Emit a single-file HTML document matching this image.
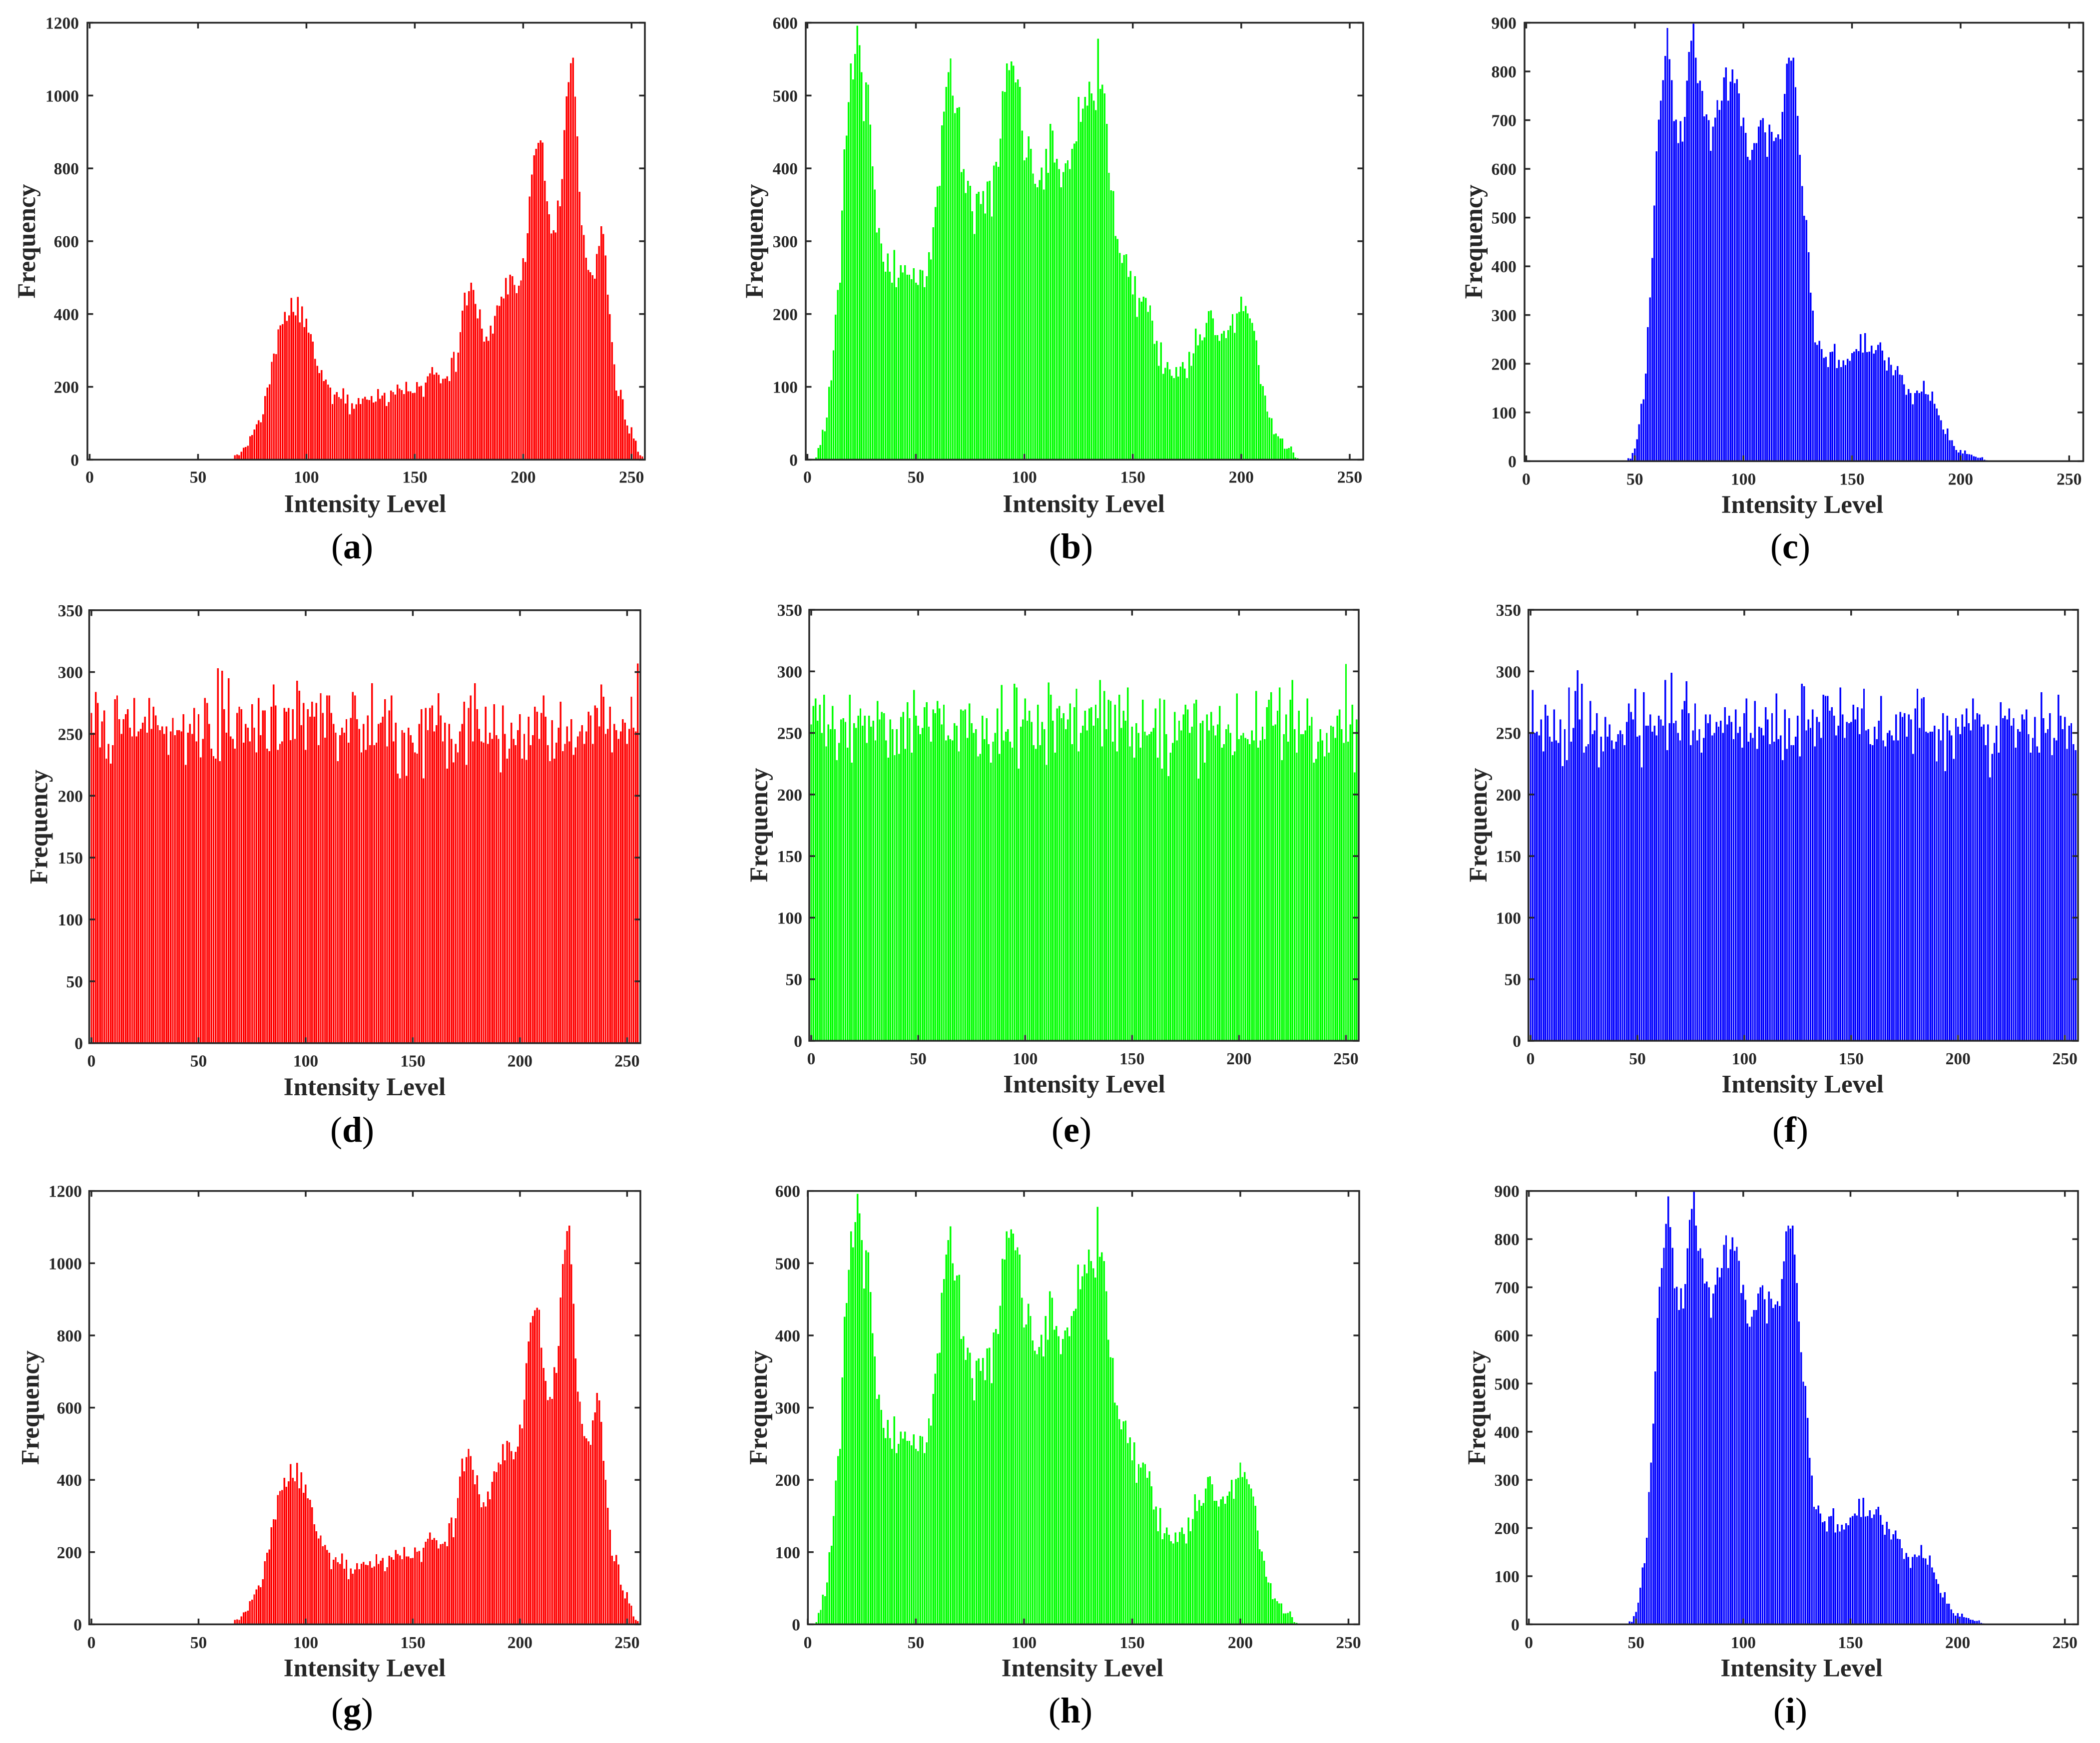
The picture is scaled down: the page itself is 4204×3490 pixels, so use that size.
<!DOCTYPE html>
<html lang="en">
<head>
<meta charset="utf-8">
<title>Intensity histograms</title>
<style>
html,body{margin:0;padding:0;background:#fff;}
#figure{display:block;width:4204px;height:3490px;background:#fff;}
text{font-family:"Liberation Serif",serif;}
</style>
</head>
<body>
<svg id="figure" xmlns="http://www.w3.org/2000/svg" width="4204" height="3490" viewBox="0 0 4204 3490"></svg>
<script>
const xTickValues = [0,50,100,150,200,250];
const yTicksOriginalRed = [0,200,400,600,800,1000,1200];
const yTicksOriginalGreen = [0,100,200,300,400,500,600];
const yTicksOriginalBlue = [0,100,200,300,400,500,600,700,800,900];
const yTicksEncrypted = [0,50,100,150,200,250,300,350];
const xAxisTitle = "Intensity Level";
const yAxisTitle = "Frequency";

const seriesOriginalRed = [
0,0,0,0,0,0,0,0,0,0,
0,0,0,0,0,0,0,0,0,0,
0,0,0,0,0,0,0,0,0,0,
0,0,0,0,0,0,0,0,0,0,
0,0,0,0,0,0,0,0,0,0,
0,0,0,0,0,0,0,0,0,0,
0,0,0,0,1,2,1,12,14,12,
22,33,35,38,64,68,83,97,108,103,
125,175,198,207,269,291,290,358,369,372,
406,381,396,444,406,396,447,377,421,364,
387,349,345,324,277,258,238,246,216,220,
206,198,153,179,186,172,167,196,154,179,
125,155,140,152,169,153,168,173,165,164,
175,157,160,194,167,176,184,147,158,190,
186,179,206,195,191,180,214,188,188,183,
184,213,201,203,173,212,229,237,254,234,
239,233,210,222,223,229,216,280,296,241,
294,350,409,459,424,463,486,466,428,388,
413,360,324,338,326,368,346,395,424,422,
448,443,499,454,508,504,480,457,478,492,
553,543,622,723,783,836,854,870,877,871,
766,710,674,621,630,624,712,696,771,905,
998,1037,1089,1104,997,888,736,644,617,555,
521,515,507,497,565,587,641,620,561,453,
400,323,262,190,175,192,166,110,94,72,
89,58,52,22,12,9];

const seriesOriginalGreen = [
0,0,0,1,3,16,20,41,39,58,
100,109,150,199,233,243,342,426,445,491,
544,522,557,596,569,532,465,518,515,460,
403,371,312,318,297,272,258,283,258,243,
288,237,250,267,257,267,254,254,248,263,
243,240,261,260,237,252,285,275,319,347,
375,376,459,478,512,532,551,500,476,483,
484,395,399,366,383,376,341,310,365,368,
351,369,338,382,383,334,404,409,402,441,
506,505,544,535,547,541,518,522,512,452,
411,415,444,427,393,379,374,384,401,371,
427,394,461,452,408,413,399,374,395,407,
411,399,427,434,437,498,464,482,498,486,
519,503,493,480,578,509,515,503,461,394,
370,369,307,303,284,270,281,282,251,259,
227,252,196,222,217,224,222,203,212,191,
159,163,129,161,118,126,134,124,115,112,
127,114,128,134,125,112,148,129,146,180,
157,172,164,168,188,204,205,194,171,171,
163,173,177,167,178,184,200,174,201,203,
224,204,211,201,194,188,177,164,130,104,
101,88,66,58,57,35,36,32,29,29,
15,15,16,18,10,3,2,1,1,1,
0,0,0,0,0,0,0,0,0,0,
0,0,0,0,0,0,0,0,0,0,
0,0,0,0,0,0];

const seriesOriginalBlue = [
0,0,0,0,0,0,0,0,0,0,
0,0,0,0,0,0,0,0,0,0,
0,0,0,0,0,0,0,0,0,0,
0,0,0,0,0,0,0,0,0,0,
0,0,0,0,0,0,0,6,5,17,
26,45,76,118,127,180,275,336,417,525,
636,701,740,782,832,889,825,782,698,701,
653,698,656,707,781,840,863,898,828,776,
781,760,708,712,700,637,687,705,741,721,
740,788,808,740,779,804,776,784,755,688,
705,674,625,618,639,653,653,687,700,704,
675,625,691,676,657,664,671,661,717,754,
816,828,822,828,768,709,629,565,504,495,
429,346,309,244,239,247,230,212,214,193,
224,225,241,191,208,193,207,197,210,206,
222,225,230,226,261,223,263,224,225,237,
221,228,239,244,227,207,186,213,198,176,
187,195,178,177,158,136,148,140,117,140,
145,140,143,165,138,137,124,143,118,108,
94,84,65,56,67,43,43,31,23,18,
23,16,22,15,14,13,10,9,7,7,
8,3,2,1,0,0,0,0,0,0,
0,0,0,0,0,0,0,0,0,0,
0,0,0,0,0,0,0,0,0,0,
0,0,0,0,0,0,0,0,0,0,
0,0,0,0,0,0];

const seriesEncryptedRed = [
267,251,284,275,239,260,269,230,242,226,
241,278,281,262,250,262,266,270,255,248,
279,248,252,254,259,264,251,279,254,272,
265,257,253,256,250,256,233,252,263,249,
253,253,252,266,225,251,258,250,271,244,
266,231,246,279,275,258,238,232,230,303,
228,301,270,251,295,248,246,238,267,272,
270,243,258,255,244,274,255,235,279,249,
269,269,238,236,272,290,273,237,242,244,
271,268,271,245,270,246,293,285,257,275,
237,270,264,276,264,275,241,283,267,247,
281,281,267,258,251,228,249,255,251,262,
243,263,284,281,262,254,235,258,237,265,
241,291,241,243,258,259,264,278,240,269,
281,244,259,218,214,253,251,216,255,249,
243,235,234,258,270,214,271,253,271,273,
252,257,283,265,244,259,222,258,246,227,
242,235,252,258,276,225,271,281,244,291,
270,254,244,243,272,242,251,246,274,249,
246,219,273,250,230,238,259,246,241,253,
266,230,250,229,264,241,249,272,268,246,
267,281,264,241,228,261,230,243,255,276,
236,242,256,244,262,233,239,248,252,257,
242,252,268,265,242,273,271,256,290,280,
250,254,272,235,258,253,246,252,262,259,
242,254,280,255,252,307];

const seriesEncryptedGreen = [
257,272,278,260,273,250,281,239,257,253,
272,253,228,242,261,262,259,238,281,226,
258,254,264,270,256,264,242,264,255,260,
244,276,261,267,266,244,230,261,253,232,
253,233,263,267,237,275,262,234,285,264,
256,249,254,271,275,255,243,269,266,276,
270,257,273,244,248,245,244,258,256,235,
269,268,269,246,274,258,250,253,231,233,
264,245,262,241,226,243,250,270,233,289,
244,251,253,243,238,290,287,221,255,261,
278,260,268,259,240,237,273,240,259,253,
224,291,281,260,234,270,272,262,266,253,
261,274,241,271,286,235,250,256,268,252,
270,271,256,273,262,293,239,284,253,277,
276,243,273,235,281,254,268,260,287,239,
255,230,258,250,238,277,251,248,249,251,
254,270,230,278,221,277,249,215,234,242,
267,244,260,252,265,273,269,250,255,274,
277,213,258,260,226,265,252,267,256,248,
257,272,238,241,253,257,250,232,235,282,
245,248,250,246,245,241,252,244,284,238,
244,255,245,271,277,283,256,257,268,287,
228,249,265,243,277,293,253,234,268,249,
249,252,278,256,263,226,229,243,253,244,
231,250,234,256,255,246,264,269,253,242,
306,243,257,273,218,261];

const seriesEncryptedBlue = [
250,285,250,251,248,261,235,273,264,247,
243,269,244,242,261,223,253,228,287,243,
254,284,301,261,290,234,239,241,276,249,
252,266,222,247,235,263,247,257,244,237,
243,249,252,249,240,259,274,267,261,286,
247,248,222,283,256,256,265,251,256,248,
264,261,256,293,236,258,299,258,260,250,
244,269,276,292,266,240,252,274,244,253,
234,246,265,258,265,248,250,259,255,260,
250,271,257,264,259,245,269,250,255,238,
266,278,243,250,246,276,237,255,254,248,
271,261,241,266,243,282,245,248,228,269,
237,262,240,240,247,264,231,290,288,252,
261,254,269,239,263,259,246,281,280,280,
268,271,264,248,256,287,265,246,259,258,
259,273,261,271,249,270,286,252,253,241,
240,255,245,260,280,244,239,250,252,248,
244,265,244,267,263,266,247,265,261,233,
270,286,254,278,279,251,250,251,251,256,
227,253,244,266,219,264,252,248,229,262,
255,249,265,255,270,258,252,278,261,266,
265,255,257,240,257,214,233,242,256,234,
275,262,264,261,270,256,262,238,253,251,
265,261,269,249,234,246,263,239,234,283,
262,250,253,266,232,246,244,281,264,253,
263,237,256,258,241,236];

const panels = [
  {id:'a',values:seriesOriginalRed,color:'#ff0000',yMax:1200,yTicks:yTicksOriginalRed,left:175,right:1291,top:45.5,bottom:920.4,x0:179.5,x250:1264.3,yTitleX:70,yTitleY:483,xTitleX:731,xTitleY:1025.5,capX:705,capY:1118,yLabelRight:158,xLabelY:966.7},
  {id:'b',values:seriesOriginalGreen,color:'#00ff00',yMax:600,yTicks:yTicksOriginalGreen,left:1613,right:2729,top:45.5,bottom:920.4,x0:1616.4,x250:2702,yTitleX:1527,yTitleY:483,xTitleX:2169.6,xTitleY:1025.5,capX:2144,capY:1118,yLabelRight:1597,xLabelY:966.7},
  {id:'c',values:seriesOriginalBlue,color:'#0000ff',yMax:900,yTicks:yTicksOriginalBlue,left:3052,right:4170.5,top:45.5,bottom:923.4,x0:3055.4,x250:4142.3,yTitleX:2967,yTitleY:484,xTitleX:3608,xTitleY:1027,capX:3584,capY:1118,yLabelRight:3035.7,xLabelY:970.3},
  {id:'d',values:seriesEncryptedRed,color:'#ff0000',yMax:350,yTicks:yTicksEncrypted,left:178.6,right:1282,top:1221.8,bottom:2088.7,x0:183,x250:1255.4,yTitleX:94.6,yTitleY:1655.6,xTitleX:730,xTitleY:2193,capX:705,capY:2286,yLabelRight:166,xLabelY:2135.6},
  {id:'e',values:seriesEncryptedGreen,color:'#00ff00',yMax:350,yTicks:yTicksEncrypted,left:1620,right:2720,top:1221,bottom:2084,x0:1624,x250:2694.5,yTitleX:1536,yTitleY:1652,xTitleX:2170.5,xTitleY:2187.7,capX:2145,capY:2286,yLabelRight:1606,xLabelY:2131},
  {id:'f',values:seriesEncryptedBlue,color:'#0000ff',yMax:350,yTicks:yTicksEncrypted,left:3059.7,right:4160,top:1221,bottom:2084,x0:3064,x250:4133.7,yTitleX:2976,yTitleY:1652,xTitleX:3608.7,xTitleY:2187.7,capX:3584,capY:2286,yLabelRight:3045,xLabelY:2131},
  {id:'g',values:seriesOriginalRed,color:'#ff0000',yMax:1200,yTicks:yTicksOriginalRed,left:178.6,right:1282,top:2384.7,bottom:3252.4,x0:183,x250:1255.4,yTitleX:77.7,yTitleY:2818.5,xTitleX:730,xTitleY:3356.5,capX:705,capY:3449,yLabelRight:164,xLabelY:3300},
  {id:'h',values:seriesOriginalGreen,color:'#00ff00',yMax:600,yTicks:yTicksOriginalGreen,left:1617.3,right:2721,top:2384.7,bottom:3252.4,x0:1617,x250:2699.5,yTitleX:1535,yTitleY:2818.5,xTitleX:2167,xTitleY:3356.5,capX:2143,capY:3449,yLabelRight:1602,xLabelY:3300},
  {id:'i',values:seriesOriginalBlue,color:'#0000ff',yMax:900,yTicks:yTicksOriginalBlue,left:3056.3,right:4160,top:2384.7,bottom:3252.4,x0:3060.6,x250:4133.7,yTitleX:2973,yTitleY:2818.5,xTitleX:3606.6,xTitleY:3356.5,capX:3584,capY:3449,yLabelRight:3041.7,xLabelY:3300}
];

const SVG_NS = 'http://www.w3.org/2000/svg';
const INK = '#262626';
const AXIS_W = 3.5;
const TICK_LEN = 11.5;
const figure = document.getElementById('figure');

function make(parent, tag, attrs) {
  const el = document.createElementNS(SVG_NS, tag);
  for (const k in attrs) el.setAttribute(k, attrs[k]);
  parent.appendChild(el);
  return el;
}

panels.forEach(function (p) {
  const xScale = function (v) { return p.x0 + (p.x250 - p.x0) * v / 250; };
  const yScale = function (v) { return p.bottom - (p.bottom - p.top) * v / p.yMax; };
  const barW = (p.x250 - p.x0) / 250 * 0.8;

  const group = make(figure, 'g', {});
  
  

  const bars = make(group, 'g', {fill: p.color, 'shape-rendering': 'crispEdges'});
  
  
  p.values.forEach(function (v, i) {
    const yTop = yScale(v);
    const bar = make(bars, 'rect', {x: (xScale(i) - barW / 2).toFixed(2), y: yTop.toFixed(2), width: barW.toFixed(2), height: (p.bottom - yTop).toFixed(2)});
    
    
  });

  const frame = make(group, 'rect', {x: p.left, y: p.top, width: p.right - p.left, height: p.bottom - p.top, fill: 'none', stroke: INK, 'stroke-width': AXIS_W});
  
  

  xTickValues.forEach(function (v) {
    const x = xScale(v);
    const low = make(group, 'line', {x1: x, x2: x, y1: p.bottom, y2: p.bottom - TICK_LEN, stroke: INK, 'stroke-width': AXIS_W});
    
    
    const high = make(group, 'line', {x1: x, x2: x, y1: p.top, y2: p.top + TICK_LEN, stroke: INK, 'stroke-width': AXIS_W});
    
    
    const label = make(group, 'text', {x: x, y: p.xLabelY, 'text-anchor': 'middle', 'font-size': 33.5, 'font-weight': 'bold', fill: INK});
    
    
    label.textContent = v;
  });

  p.yTicks.forEach(function (v) {
    const y = yScale(v);
    const lo = make(group, 'line', {x1: p.left, x2: p.left + TICK_LEN, y1: y, y2: y, stroke: INK, 'stroke-width': AXIS_W});
    
    
    const hi = make(group, 'line', {x1: p.right, x2: p.right - TICK_LEN, y1: y, y2: y, stroke: INK, 'stroke-width': AXIS_W});
    
    
    const label = make(group, 'text', {x: p.yLabelRight, y: y + 12, 'text-anchor': 'end', 'font-size': 33.5, 'font-weight': 'bold', fill: INK});
    
    
    label.textContent = v;
  });

  const xTitle = make(group, 'text', {x: p.xTitleX, y: p.xTitleY, 'text-anchor': 'middle', 'font-size': 51, 'font-weight': 'bold', fill: INK});
  
  
  xTitle.textContent = xAxisTitle;

  const yTitle = make(group, 'text', {x: 0, y: 0, transform: 'translate(' + p.yTitleX + ' ' + p.yTitleY + ') rotate(-90)', 'text-anchor': 'middle', 'font-size': 50.5, 'font-weight': 'bold', fill: INK});
  
  
  yTitle.textContent = yAxisTitle;

  const cap = make(group, 'text', {x: p.capX, y: p.capY, 'text-anchor': 'middle', 'font-size': 72, fill: '#000'});
  
  
  cap.appendChild(document.createTextNode('('));
  const capLetter = make(cap, 'tspan', {'font-weight': 'bold'});
  capLetter.textContent = p.id;
  cap.appendChild(document.createTextNode(')'));
});
</script>
</body>
</html>
